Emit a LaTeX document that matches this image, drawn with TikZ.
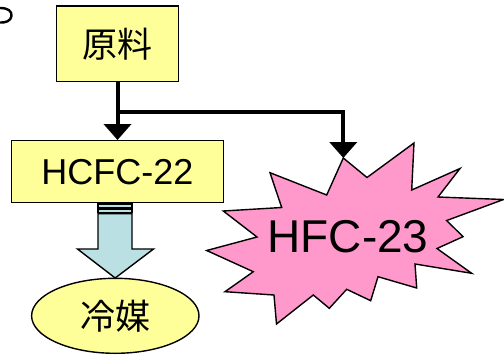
\documentclass[tikz,border=0pt]{standalone}
\usepackage{fontspec}
\setmainfont{Liberation Sans}
\newfontfamily\cjk{Noto Sans CJK JP}
\usetikzlibrary{arrows.meta,shapes.geometric,calc}
\definecolor{boxyellow}{HTML}{FFFF99}
\definecolor{arrowblue}{HTML}{BBE0E3}
\definecolor{burstpink}{HTML}{FF99CC}
\tikzset{
  ybox/.style={draw=black,line width=1.4pt,fill=boxyellow,inner sep=0pt},
  flowline/.style={line width=4pt,-{Triangle[width=27pt,length=16pt]}},
}
\begin{document}
\begin{tikzpicture}[x=1pt,y=-1pt]
\useasboundingbox (0,0) rectangle (504,354);
% partial glyph top-left
\draw[line width=2.4pt] (0,8) .. controls (8,8) and (12,11) .. (11.5,16) .. controls (11,21) and (5,23) .. (0,22.5);
% nodes
\node[ybox,minimum width=121.7pt,minimum height=75.7pt] (yuan) at (117.5,43.8) {\fontsize{35pt}{40pt}\cjk 原料};
\node[ybox,minimum width=211.7pt,minimum height=62pt] (hcfc) at (117.5,171.7) {\fontsize{36pt}{40pt}\selectfont HCFC-22};
\node[ellipse,draw=black,line width=1.4pt,fill=boxyellow,minimum width=167.4pt,minimum height=75pt,inner sep=0pt] (reizai) at (115.3,315.8) {\fontsize{35pt}{40pt}\cjk 冷媒};
% starburst
\draw[line width=1.4pt,fill=burstpink,line join=miter]
  (343.3,158) -- (367,177.5) -- (414,143) -- (411.7,190) -- (460,168.5) -- (438,197)
  -- (503.5,199.5) -- (446.7,220.5) -- (463,236.7) -- (437,248.5) -- (471.7,273.3)
  -- (415,264) -- (416.7,288) -- (378,276.7) -- (370.7,300.7) -- (346.7,289.3)
  -- (329.3,308.3) -- (313.3,295) -- (276.5,324) -- (274,295) -- (225,291.7)
  -- (253.3,271.7) -- (206.7,250.5) -- (257,237) -- (223.3,211) -- (281.7,207.5)
  -- (270,172.7) -- (326.7,195) -- cycle;
\coordinate (tip) at (343.3,158);
\node (hfc) at (348,236.7) {\fontsize{46pt}{50pt}\selectfont HFC-23};
% connectors
\coordinate (br) at (117.5,112.3);
\draw[flowline] (yuan.south) -- (hcfc.north);
\draw[flowline] (br) -| (tip);
% striped block arrow
\begin{scope}[shift={(hcfc.south)}]
  \draw[line width=1.4pt,fill=arrowblue] (-19.5,0.5) rectangle (14.5,4);
  \draw[line width=1.4pt,fill=arrowblue] (-19.5,5.5) rectangle (14.5,9.3);
  \draw[line width=1.4pt,fill=arrowblue,line join=miter]
    (-19.5,10.3) -- (14.5,10.3) -- (14.5,45.6) -- (36,45.6) -- (-2.3,74.6)
    -- (-40,45.6) -- (-19.5,45.6) -- cycle;
\end{scope}
\end{tikzpicture}
\end{document}
